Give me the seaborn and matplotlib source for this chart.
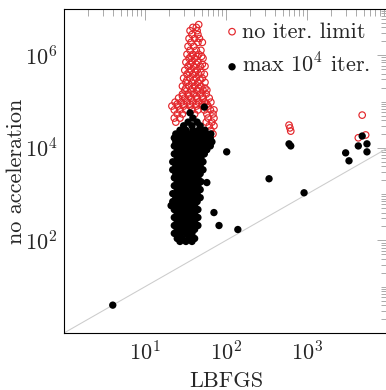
import numpy as np
import pandas as pd
import matplotlib
matplotlib.use("Agg")
import matplotlib.pyplot as plt
import matplotlib.ticker as mticker
import seaborn as sns

# runs without an iteration limit: y level of each row and the x values in it
red_levels = [4.6e6, 4.0e6, 3.4e6, 2.8e6, 2.3e6, 1.9e6, 1.56e6, 1.28e6, 1.05e6,
              9.5e5, 8.6e5, 7.1e5, 6.4e5, 5.8e5, 4.75e5, 4.3e5, 3.9e5, 3.2e5,
              2.9e5, 2.6e5, 2.15e5, 1.95e5, 1.77e5, 1.45e5, 1.31e5, 1.19e5,
              9.7e4, 8.8e4, 8.0e4, 6.6e4, 5.4e4, 4.4e4, 3.6e4, 3.0e4, 2.4e4, 2.0e4]
red_xs = [
    [46], [39, 43], [36, 44], [38, 45], [35, 41, 47], [37, 45, 51], [34, 40],
    [36, 43, 49], [33, 39, 46], [37, 44, 50], [35, 41, 52], [32, 38, 45],
    [36, 43, 51], [34, 40, 48, 55], [31, 37, 44], [35, 42, 49],
    [33, 39, 46, 54], [30, 36, 43, 51], [33, 40, 48], [32, 38, 45, 55],
    [29, 35, 41, 49], [32, 39, 46, 55], [31, 37, 44, 52, 58],
    [29, 34, 40, 48, 57], [29, 35, 43, 51], [26, 31, 37, 44, 52, 62],
    [23.5, 28, 33, 39, 46, 55, 65], [25, 30, 36, 43, 51, 58],
    [21.5, 25.5, 30, 36, 43, 51, 60], [23, 27, 32, 38, 45, 54, 64, 71],
    [25, 29, 41, 58, 69], [23, 27, 60, 71], [24, 57, 67], [62, 71], [65], [69],
]
red_out_x = [600, 615, 630, 4800, 4300, 5300]
red_out_y = [31000, 27000, 23000, 51000, 16500, 19000]

# runs capped at 10^4 iterations
black_levels = [5.7e4, 4.4e4, 3.6e4, 3.0e4, 2.4e4, 2.0e4, 1.64e4, 1.35e4, 1.1e4,
                9100, 7400, 6100, 5000, 4100, 3360, 2760, 2260, 1860, 1520, 1250,
                1025, 840, 690, 566, 464, 381, 313, 256, 210, 173, 142, 110, 95]
black_xs = [
    [36], [39], [34, 44], [30, 38, 48], [27, 32, 39, 46, 55],
    [24, 28.6, 34, 40, 48, 57, 65], [23, 27, 32, 38, 45, 54, 64],
    [24, 29, 34, 40, 48, 57, 67], [23, 27, 32, 38, 45, 54, 64],
    [25, 29, 35, 41, 49, 58], [23, 27, 32, 38, 45, 54], [25, 29, 35, 41, 49],
    [22, 26, 31, 37, 44, 52], [24, 29, 34, 40, 48], [22, 26, 31, 37, 44, 52],
    [24, 29, 34, 40, 48], [23, 27, 32, 38, 45], [25, 29, 35, 41, 49],
    [23, 27, 32, 38, 45], [25, 29, 35, 41, 48], [22, 26, 31, 37, 44],
    [24, 29, 34, 40, 48], [22, 26, 31, 37, 44], [21, 25, 29, 35, 41],
    [23, 27, 32, 38, 45], [25, 29, 35, 41], [23, 27, 32, 38, 45],
    [25, 29, 35, 41], [23, 27, 32, 38, 45], [25, 29, 35, 41],
    [23, 27, 32, 38], [25, 29, 35, 41], [27, 32, 38],
]
black_out_x = [4, 102, 340, 920, 71, 82, 140, 600, 630, 3000, 3300, 4300,
               4800, 5500, 5500, 58, 54]
black_out_y = [4, 8200, 2150, 1070, 400, 210, 172, 12200, 11000, 7800, 5250,
               11000, 18000, 12200, 8200, 1780, 76000]

diag = [1, 10000]


def flatten(levels, xs, out_x, out_y):
    x = [v for row in xs for v in row] + out_x
    y = [lv for lv, row in zip(levels, xs) for _ in row] + out_y
    return pd.DataFrame({"LBFGS": x, "noacc": y})


red_df = flatten(red_levels, red_xs, red_out_x, red_out_y)
black_df = flatten(black_levels, black_xs, black_out_x, black_out_y)

sns.set_theme(style="white")
plt.rcParams["font.family"] = "cmr10"
plt.rcParams["mathtext.fontset"] = "cm"
plt.rcParams["axes.formatter.use_mathtext"] = True

fig = plt.figure(figsize=(3.86, 3.90), dpi=100)
ax = fig.add_axes([64 / 386, 57 / 390, 324 / 386, 324 / 390])

ax.plot(diag, diag, color="#cccccc", lw=0.75, zorder=1)
sns.scatterplot(data=red_df, x="LBFGS", y="noacc", ax=ax, marker="o", s=22,
                facecolor="none", edgecolor="#e3262b", linewidth=0.85,
                label="no iter. limit", zorder=2)
sns.scatterplot(data=black_df, x="LBFGS", y="noacc", ax=ax, marker="o", s=28,
                color="black", edgecolor="none", linewidth=0,
                label="max $10^4$ iter.", zorder=3)

ax.set_xscale("log")
ax.set_yscale("log")
ax.set_xlim(1, 1e4)
ax.set_ylim(1, 1e7)
ax.xaxis.set_major_locator(mticker.FixedLocator([10, 100, 1000]))
ax.yaxis.set_major_locator(mticker.FixedLocator([1e2, 1e4, 1e6]))
for axis in (ax.xaxis, ax.yaxis):
    axis.set_major_formatter(mticker.LogFormatterSciNotation())
    axis.set_minor_locator(mticker.LogLocator(base=10, subs=np.arange(1, 10), numticks=100))
    axis.set_minor_formatter(mticker.NullFormatter())

ax.tick_params(which="both", direction="in", top=True, right=True,
               color="#aaaaaa", width=0.7, labelsize=16, pad=5)
ax.tick_params(which="major", length=8)
ax.tick_params(which="minor", length=5)
for sp in ax.spines.values():
    sp.set_color("black")
    sp.set_linewidth(0.8)

ax.set_xlabel("LBFGS", fontsize=16)
ax.set_ylabel("no acceleration", fontsize=16)
ax.xaxis.set_label_coords(0.5, -0.118)
ax.yaxis.set_label_coords(-0.116, 0.5)

ax.legend(loc="upper left", bbox_to_anchor=(0.5015, 0.96), frameon=False,
          fontsize=16, handlelength=0.5, handletextpad=0.2, borderpad=0,
          borderaxespad=0, labelspacing=0.5)

fig.savefig("out.png", dpi=100)
